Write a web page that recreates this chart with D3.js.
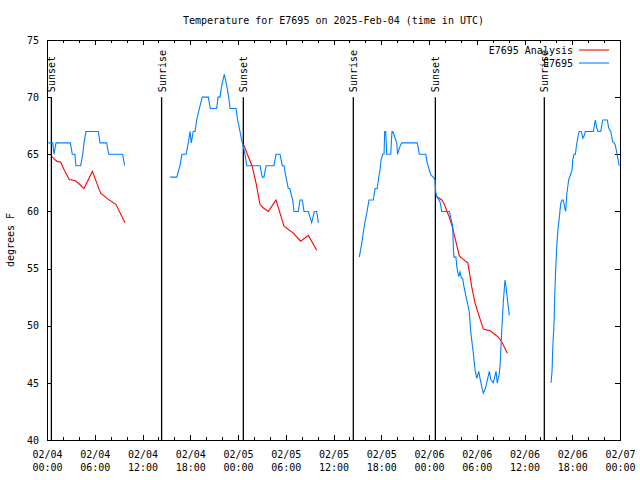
<!DOCTYPE html>
<html>
<head>
<meta charset="utf-8">
<script src="https://cdn.jsdelivr.net/npm/d3@7"></script>
<style>
  body { margin: 0; background: #fff; }
  text { font-family: "DejaVu Sans Mono", "Liberation Mono", monospace; font-size: 10px; fill: #000; }
</style>
</head>
<body>
<div class="chart"></div>
<script>
// hours after 2025-02-04 00:00 UTC, temperature in F
var obsSeg1 = [[0.16,66],[0.72,66],[0.88,65],[1.13,66],[2.93,66],[3.18,65],[3.5,65],[3.64,64],[4.23,64],[4.49,65],[4.65,66],[4.9,67],[6.45,67],[6.66,66],[7.5,66],[7.75,65],[9.5,65],[9.76,64]];
var obsSeg2 = [[15.46,63],[16.3,63],[16.71,64],[16.96,65],[17.47,65],[17.76,66],[17.97,67],[18.13,66],[18.38,67],[18.6,67],[18.81,68],[19.14,69],[19.51,70],[20.27,70],[20.52,69],[21.32,69],[21.49,70],[21.74,70],[21.95,71],[22.28,72],[22.58,71],[22.83,70],[23.0,69],[23.75,69],[23.96,68],[24.25,67],[24.47,66.2],[24.67,65.7],[24.88,65],[25.09,64],[26.77,64],[27.05,63],[27.27,63],[27.52,64],[28.52,64],[28.78,65],[29.28,65],[29.57,64],[29.78,64],[30.03,63],[30.32,62],[30.5,62],[30.87,61],[31.04,60],[31.58,60],[31.79,61],[32.08,61],[32.29,60],[32.84,60],[33.26,59],[33.59,60],[33.89,60],[34.09,59]];
var obsSeg3 = [[39.24,56],[39.55,57.2],[39.75,58.2],[39.96,59.1],[40.17,59.8],[40.46,61],[41.0,61],[41.22,62],[41.5,62],[41.68,63],[41.84,63.6],[41.97,64.5],[42.18,65],[42.35,65],[42.43,67],[42.56,67],[42.69,65],[43.19,65],[43.35,67],[43.45,67],[43.75,66.4],[43.95,66],[44.05,65],[44.3,65.6],[44.57,66],[46.53,66],[46.78,65],[47.59,65],[47.79,64.2],[47.96,63.8],[48.22,63.2],[48.54,63],[48.76,62.75],[48.84,61.7],[48.97,61.3],[49.17,61.1],[49.38,60.85],[49.6,60],[50.55,60],[50.85,59.1],[50.98,58.7],[51.06,56.8],[51.14,56],[51.39,56],[51.48,55.2],[51.73,54.3],[51.9,54.7],[52.06,54.2],[52.24,54.1],[52.4,53.4],[52.61,52.7],[52.82,52],[53.07,51.2],[53.24,49.5],[53.41,48.5],[53.57,47.6],[53.7,46.7],[53.82,46],[54.0,45.4],[54.25,46],[54.41,45.4],[54.62,44.7],[54.83,44.1],[55.08,44.5],[55.25,45],[55.58,46],[55.79,45.25],[56.08,45],[56.42,46],[56.58,45],[56.84,45.8],[56.96,46.85],[57.14,49.6],[57.34,52.1],[57.55,54],[57.68,53.4],[57.84,52.4],[58.09,50.9]];
var obsSeg4 = [[63.33,45],[63.46,46],[63.55,48],[63.71,50.2],[63.8,52.7],[63.92,54.9],[64.05,56.9],[64.21,58.5],[64.38,59.5],[64.55,60.7],[64.72,61],[64.88,61],[65.06,60.3],[65.18,60],[65.31,61.5],[65.56,62.8],[65.72,63.1],[65.97,63.6],[66.06,64.5],[66.22,65],[66.39,65],[66.56,65.9],[66.76,66.7],[66.89,67],[67.14,67],[67.32,66.4],[67.48,66.6],[67.64,67],[68.65,67],[68.9,68],[69.08,67.3],[69.24,67],[69.58,67],[69.83,68],[70.41,68],[70.58,67.3],[70.83,67],[71.08,66.1],[71.25,66],[71.41,65.8],[71.66,64.9],[71.84,64.2],[71.91,64]];

var anaSeg1 = [[0.59,64.8],[1.21,64.4],[1.72,64.3],[2.18,63.6],[2.8,62.8],[3.52,62.7],[4.06,62.4],[4.65,62.0],[5.7,63.5],[6.74,61.6],[7.62,61.1],[8.67,60.6],[9.8,59.0]];
var anaSeg2 = [[24.75,65.8],[25.17,65.0],[25.76,64.0],[26.26,62.5],[26.77,60.6],[27.2,60.3],[27.81,60.0],[28.78,61.0],[29.78,58.7],[30.95,58.1],[31.87,57.4],[32.84,57.9],[33.89,56.6]];
var anaSeg3 = [[48.97,61.3],[49.6,61.0],[49.89,60.7],[50.23,60.06],[50.55,59.5],[50.93,58.66],[51.48,57.06],[51.81,56.1],[52.31,55.8],[52.87,55.5],[53.07,54.7],[53.37,53.4],[53.78,52.0],[54.32,50.8],[54.83,49.7],[55.67,49.56],[56.17,49.3],[56.71,49.0],[57.14,48.6],[57.84,47.6]];

var sunHours = [0.55, 14.4, 24.67, 38.49, 48.8, 62.49];
var sunLabels = ["Sunset", "Sunrise", "Sunset", "Sunrise", "Sunset", "Sunrise"];

var yTicks = [40, 45, 50, 55, 60, 65, 70, 75];
var legendNames = ["E7695 Analysis", "E7695"];
var legendColors = ["#ff0000", "#0080ff"];

var t0 = Date.UTC(2025, 1, 4, 0, 0);
function toDate(h) { return new Date(t0 + h * 3600000); }

var margin = { top: 40, right: 20, bottom: 40, left: 47 };
var width = 640 - margin.left - margin.right, height = 480 - margin.top - margin.bottom;

var x = d3.scaleUtc().domain([toDate(0), toDate(72)]).range([0, width]);
var y = d3.scaleLinear().domain([40, 75]).range([height, 0]);

var svg = d3.select(".chart").append("svg")
    .attr("width", 640).attr("height", 480)
    .append("g")
    .attr("transform", "translate(" + margin.left + "," + margin.top + ")");

// title
svg.append("text")
    .attr("x", width / 2).attr("y", -16)
    .attr("text-anchor", "middle")
    .text("Temperature for E7695 on 2025-Feb-04 (time in UTC)");

var majorTicks = d3.range(0, 73, 6).map(toDate);
var minorTicks = d3.range(0, 73, 2).filter(function (h) { return h % 6 != 0; }).map(toDate);
var fmtDay = d3.utcFormat("%m/%d"), fmtHour = d3.utcFormat("%H:%M");

// bottom axis
var xb = svg.append("g").attr("transform", "translate(0," + height + ")")
    .call(d3.axisBottom(x).tickValues(majorTicks).tickSize(-5).tickPadding(11).tickFormat(""));
xb.selectAll(".tick text").each(function (d) {
    var t = d3.select(this);
    t.append("tspan").attr("x", 0).attr("dy", "0.71em").text(fmtDay(d));
    t.append("tspan").attr("x", 0).attr("dy", "1.3em").text(fmtHour(d));
});
svg.append("g").attr("transform", "translate(0," + height + ")")
    .call(d3.axisBottom(x).tickValues(minorTicks).tickSize(-3).tickFormat(""));
// top axis (mirror)
svg.append("g").call(d3.axisTop(x).tickValues(majorTicks).tickSize(-5).tickFormat(""));
svg.append("g").call(d3.axisTop(x).tickValues(minorTicks).tickSize(-3).tickFormat(""));
// y axes
svg.append("g").call(d3.axisLeft(y).tickValues(yTicks).tickSize(-5).tickPadding(8).tickFormat(d3.format("d")));
svg.append("g").attr("transform", "translate(" + width + ",0)")
    .call(d3.axisRight(y).tickValues(yTicks).tickSize(-5).tickFormat(""));

svg.selectAll(".domain").remove();
svg.selectAll(".tick line").attr("stroke", "#000").attr("shape-rendering", "crispEdges");
svg.selectAll(".tick text").attr("font-family", null).attr("font-size", null);

svg.append("rect")
    .attr("width", width).attr("height", height)
    .attr("fill", "none").attr("stroke", "#000").attr("shape-rendering", "crispEdges");

// y label
svg.append("text")
    .attr("transform", "translate(" + (-33) + "," + (height / 2) + ") rotate(-90)")
    .attr("text-anchor", "middle")
    .text("degrees F");

// sunrise / sunset markers
sunHours.forEach(function (h, i) {
    var sx = x(toDate(h));
    svg.append("line")
        .attr("x1", sx).attr("x2", sx)
        .attr("y1", y(70)).attr("y2", height)
        .attr("stroke", "#000").attr("stroke-width", 1.3);
    svg.append("text")
        .attr("transform", "translate(" + (sx + 4) + "," + (y(70) - 5) + ") rotate(-90)")
        .attr("text-anchor", "start")
        .text(sunLabels[i]);
});

var line = d3.line()
    .x(function (d) { return x(toDate(d[0])); })
    .y(function (d) { return y(d[1]); });

[anaSeg1, anaSeg2, anaSeg3].forEach(function (seg) {
    svg.append("path").attr("d", line(seg))
        .attr("fill", "none").attr("stroke", legendColors[0]).attr("stroke-width", 1.1);
});
[obsSeg1, obsSeg2, obsSeg3, obsSeg4].forEach(function (seg) {
    svg.append("path").attr("d", line(seg))
        .attr("fill", "none").attr("stroke", legendColors[1]).attr("stroke-width", 1.1);
});

// legend
var lg = svg.append("g").attr("transform", "translate(" + (width - 11) + ",0)");
legendNames.forEach(function (name, i) {
    var ly = 10 + i * 13;
    lg.append("text").attr("x", -36).attr("y", ly).attr("dy", "0.35em")
        .attr("text-anchor", "end").text(name);
    lg.append("line").attr("x1", -30).attr("x2", 0).attr("y1", ly).attr("y2", ly)
        .attr("stroke", legendColors[i]).attr("stroke-width", 1.1);
});
</script>
</body>
</html>
